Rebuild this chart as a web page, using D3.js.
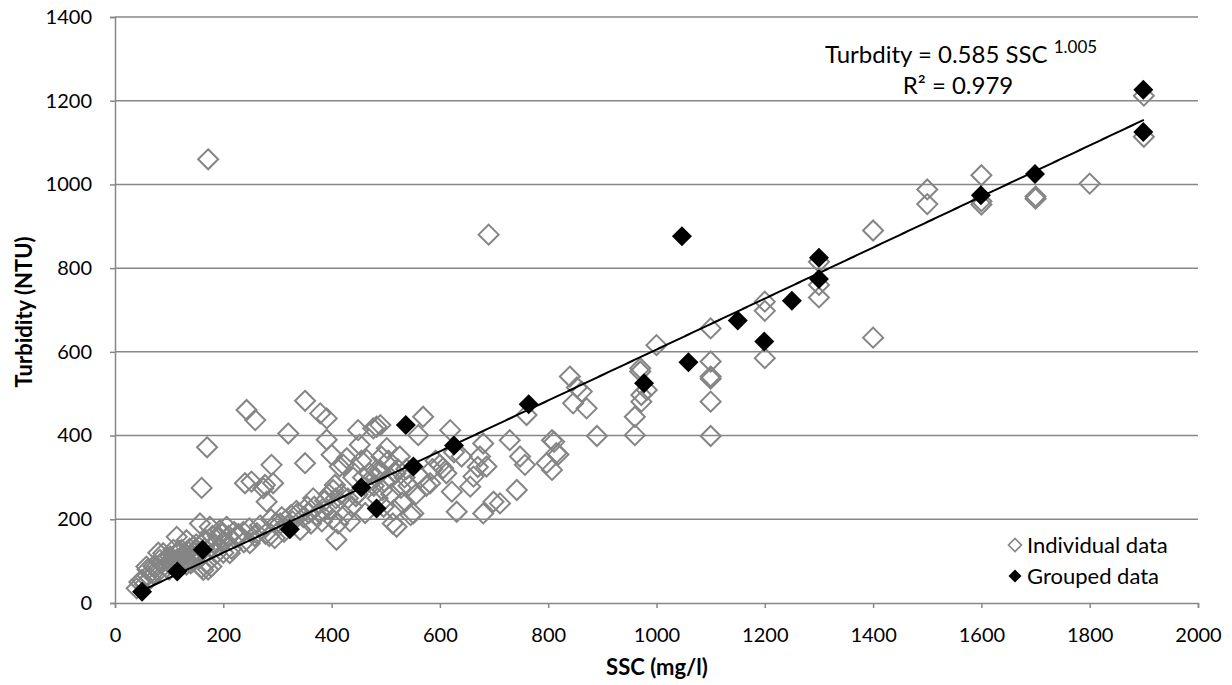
<!DOCTYPE html>
<html><head><meta charset="utf-8">
<script src="https://cdn.jsdelivr.net/npm/d3@7"></script>
<style>body{margin:0;background:#fff;} svg{display:block;font-family:Lato,"Open Sans",sans-serif;}</style>
</head><body><svg id="c" width="1232" height="685"></svg>
<script>
const xTicks=[0,200,400,600,800,1000,1200,1400,1600,1800,2000];
const yTicks=[0,200,400,600,800,1000,1200,1400];
const individualPoints=[
[40,35],[45,50],[50,55],[55,45],[58,87],[60,65],[60,80],[65,60],[70,70],[71,87],[75,85],[80,120],[80,75],[83,103],[85,95],[89,119],[90,100],[95,85],[95,105],[100,95],[102,111],[100,80],
[105,100],[108,127],[110,90],[112,100],[114,158],[115,105],[118,125],[118,88],[120,95],[123,127],[125,110],[128,118],[130,100],[132,150],[132,92],[135,123],[138,130],[140,115],[140,95],[145,135],[145,100],[148,120],[150,110],[150,140],[155,120],[157,190],[158,140],[160,275],[160,85],[163,79],[165,130],[168,150],[169,95],[170,372],[172,1060],[172,80],[175,182],[178,135],[178,87],[180,160],[185,140],[188,119],[190,160],[194,174],[198,165],[200,145],[200,120],
[206,182],[210,160],[212,119],[215,130],[220,170],[225,158],[228,165],[237,170],[238,145],[243,461],[240,286],[249,143],[248,178],[252,290],[258,160],[259,437],[262,167],[268,185],[274,274],[278,165],[280,242],[277,282],[285,160],[288,200],[289,330],[292,286],[295,155],[298,190],
[305,190],[308,205],[312,170],[318,185],[320,405],[325,210],[328,195],[335,220],[338,215],[342,175],[348,205],[351,483],[351,334],[355,230],[358,215],[362,190],[366,250],[368,230],[372,210],[378,215],[379,453],[382,195],[386,220],[388,245],[391,441],[391,390],[395,260],[398,225],[400,354],[403,270],[402,200],
[406,282],[408,250],[409,151],[412,190],[415,326],[418,260],[422,330],[424,210],[428,346],[430,250],[434,195],[438,230],[440,300],[445,255],[448,260],[449,413],[452,378],[455,340],[458,300],[462,215],[465,342],[468,290],[470,310],[477,417],[478,280],[482,300],[483,421],[485,250],[488,310],[489,318],[490,425],[492,350],[494,270],[496,230],[498,290],[502,370],
[505,340],[508,300],[510,260],[513,190],[515,222],[518,310],[520,182],[522,320],[526,350],[528,275],[530,240],[535,300],[538,320],[542,280],[546,210],[551,214],[556,260],[560,401],[565,300],[569,445],[575,280],[582,286],[586,320],[592,340],[600,330],
[606,322],[612,310],[619,413],[622,266],[626,360],[631,218],[640,350],[656,278],[662,302],[670,325],[674,350],[680,381],[680,214],[686,326],[690,880],[699,242],[711,238],
[729,389],[742,270],[748,350],[757,330],[760,449],[797,334],[807,389],[807,318],[811,385],[815,358],[819,355],[840,541],[846,477],[853,515],[862,505],[871,465],[890,399],
[960,445],[960,401],[970,561],[970,553],[972,497],[972,481],[982,509],[1000,616],[1100,656],[1100,577],[1100,541],[1100,536],[1100,481],[1100,399],[1200,720],[1200,698],[1200,585],[1300,815],[1300,760],[1300,730],[1400,890],[1400,634],[1500,988],[1500,953],[1600,1022],[1600,960],[1600,952],[1700,971],[1700,966],[1800,1002],[1900,1212],[1900,1114]
];
const groupedPoints=[
[50,27],[115,75],[162,127],[323,176],[455,276],[483,226],[537,425],[551,326],[626,376],[764,475],[977,525],[1047,876],[1059,575],[1150,675],[1199,625],[1250,722],[1300,774],[1300,825],[1599,974],[1699,1025],[1899,1125],[1899,1226]
];
const trendA=0.585, trendB=1.005;
const trendRange=[55,1900];

const svg=d3.select("#c");
const x=d3.scaleLinear().domain([0,2000]).range([115,1198]);
const y=d3.scaleLinear().domain([0,1400]).range([603,17]);
const grid="#878787";

svg.append("g").selectAll("line").data(yTicks.filter(d=>d>0)).join("line")
 .attr("x1",x(0)).attr("x2",x(2000)).attr("y1",d=>y(d)).attr("y2",d=>y(d))
 .attr("stroke",grid).attr("stroke-width",1.5);

const yAxis=svg.append("g").attr("transform",`translate(${x(0)},0)`)
 .call(d3.axisLeft(y).tickValues(yTicks).tickSize(5).tickPadding(18).tickFormat(d3.format("d")));
const xAxis=svg.append("g").attr("transform",`translate(0,${y(0)})`)
 .call(d3.axisBottom(x).tickValues(xTicks).tickSize(5).tickPadding(20).tickFormat(d3.format("d")));
[xAxis,yAxis].forEach(g=>{
 g.select(".domain").attr("stroke",grid).attr("stroke-width",1.5);
 g.selectAll(".tick line").attr("stroke",grid).attr("stroke-width",1.5);
 g.selectAll(".tick text").attr("fill","#000").style("font-size","20px").style("font-family","Lato,'Open Sans',sans-serif");
});

const diamond=r=>`M0,${-r}L${r},0L0,${r}L${-r},0Z`;

svg.append("g").selectAll("path").data(individualPoints).join("path")
 .attr("d",diamond(10)).attr("transform",d=>`translate(${x(d[0])},${y(d[1])})`)
 .attr("fill","none").attr("stroke","#858585").attr("stroke-width",2);

const trendXs=d3.range(trendRange[0],trendRange[1]+1,5);
svg.append("path").datum(trendXs)
 .attr("d",d3.line().x(d=>x(d)).y(d=>y(trendA*Math.pow(d,trendB))))
 .attr("fill","none").attr("stroke","#000").attr("stroke-width",2);

svg.append("g").selectAll("path").data(groupedPoints).join("path")
 .attr("d",diamond(10)).attr("transform",d=>`translate(${x(d[0])},${y(d[1])})`)
 .attr("fill","#000");

const eq=svg.append("text").attr("x",825).attr("y",63).style("font-size","24px").attr("fill","#000");
eq.append("tspan").text("Turbdity = 0.585 SSC ");
eq.append("tspan").text("1.005").style("font-size","17px").attr("dy","-10");
svg.append("text").attr("x",958).attr("y",94).attr("text-anchor","middle").style("font-size","24px").attr("fill","#000").text("R² = 0.979");

const legend=[{label:"Individual data",fill:"none",stroke:"#858585"},{label:"Grouped data",fill:"#000",stroke:"none"}];
const lg=svg.append("g");
legend.forEach((l,i)=>{
 const cy=545+i*31;
 lg.append("path").attr("d",diamond(6.5)).attr("transform",`translate(1015,${cy})`)
  .attr("fill",l.fill).attr("stroke",l.stroke).attr("stroke-width",1.6);
 lg.append("text").attr("x",1027).attr("y",cy+8).style("font-size","22px").attr("fill","#000").text(l.label);
});

svg.append("text").attr("x",657).attr("y",675).attr("text-anchor","middle").style("font-size","22px").style("font-weight","bold").attr("fill","#000").text("SSC (mg/l)");
svg.append("text").attr("transform","translate(32,312) rotate(-90)").attr("text-anchor","middle").style("font-size","22px").style("font-weight","bold").attr("fill","#000").text("Turbidity (NTU)");
</script></body></html>
